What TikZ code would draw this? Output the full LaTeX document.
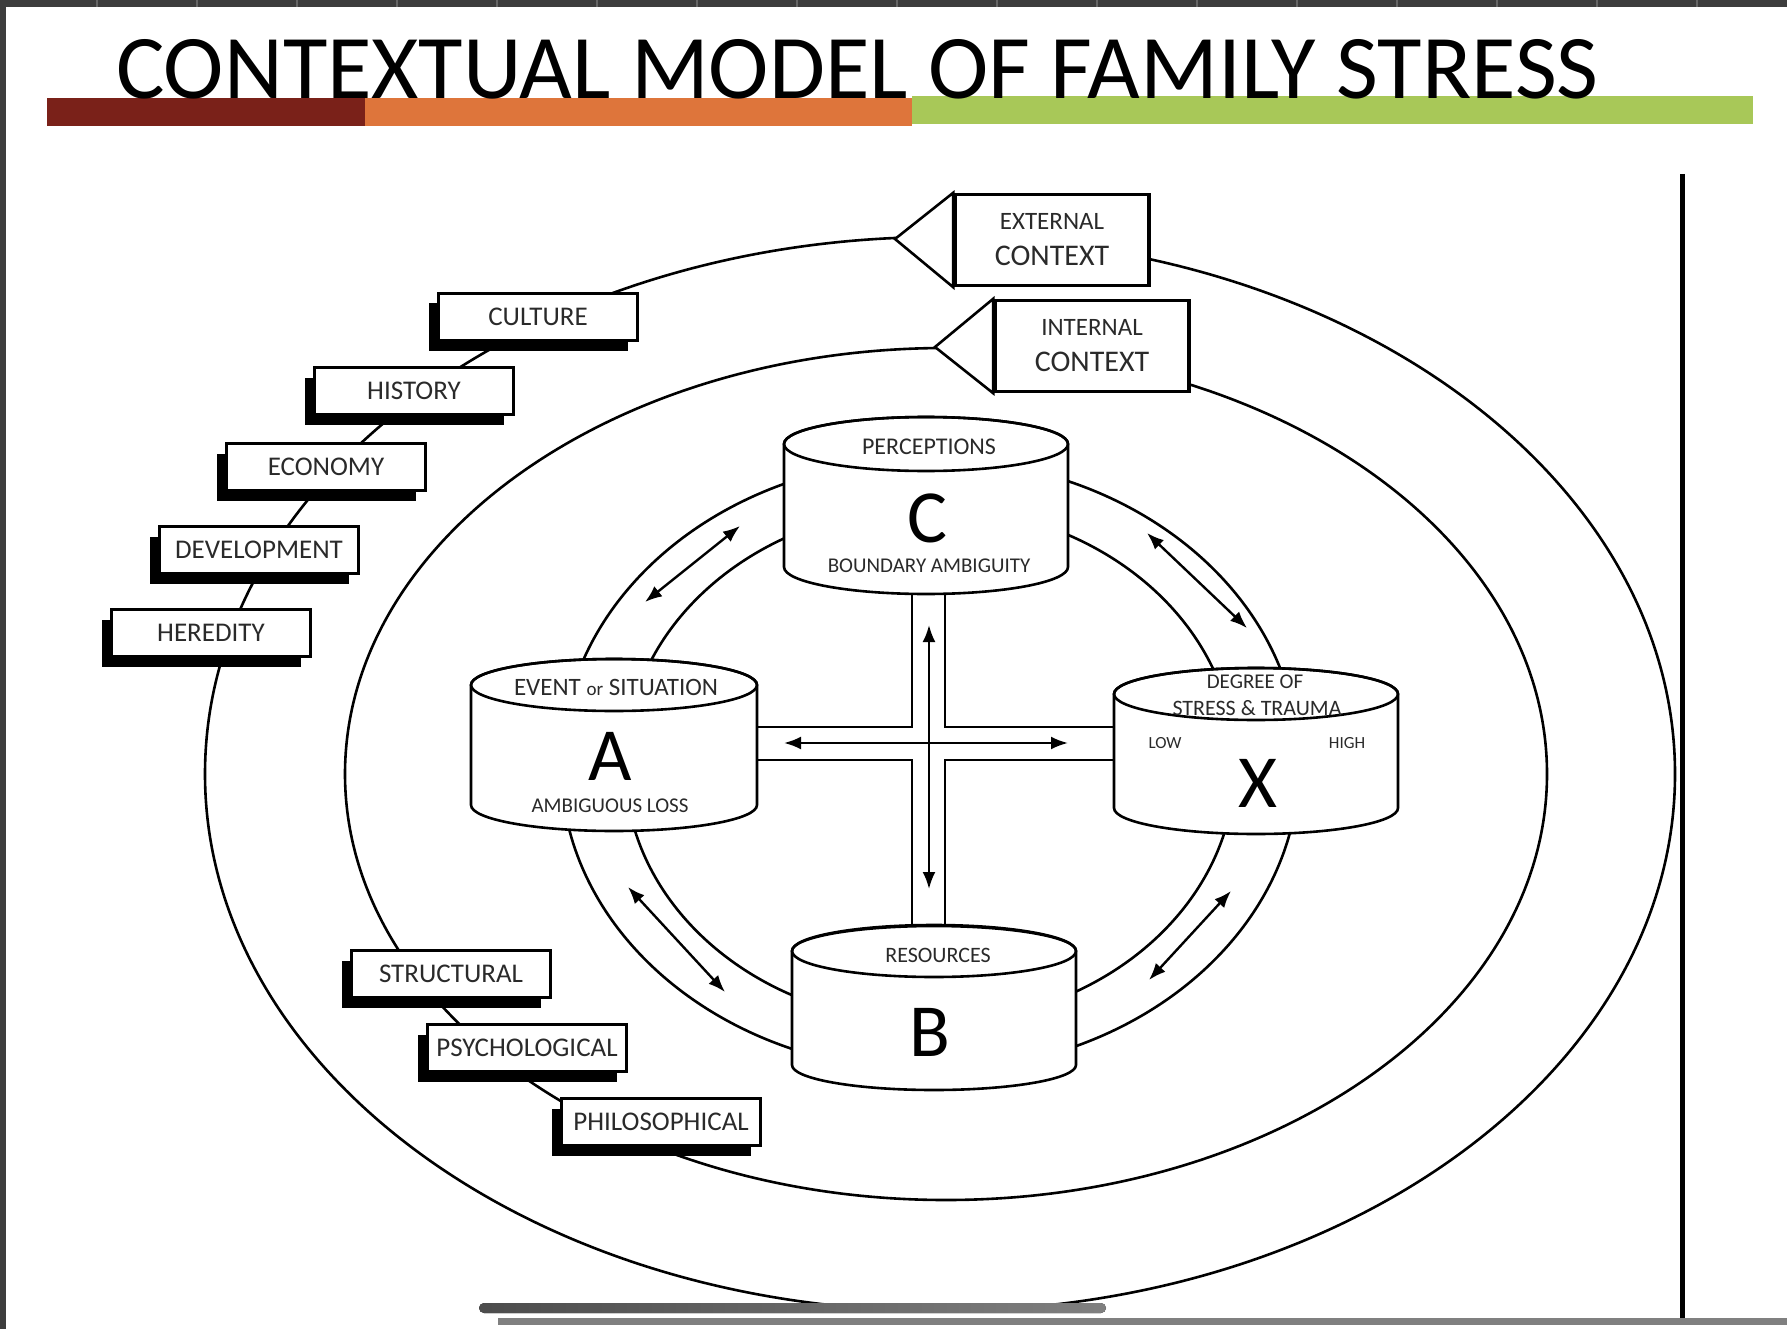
\documentclass[tikz,border=0pt]{standalone}
\usepackage{fontspec}
\setmainfont{Carlito}
\usetikzlibrary{arrows.meta,shadows}
\definecolor{barred}{HTML}{7A2119}
\definecolor{barorange}{HTML}{DE753B}
\definecolor{bargreen}{HTML}{A8C858}
\definecolor{frame}{HTML}{3D3D3D}
\definecolor{inkgrey}{HTML}{2A2A2A}

\begin{document}
\begin{tikzpicture}[x=1pt, y=-1pt,
  line/.style={line width=2.6pt},
  factor/.style={draw, line width=3pt, fill=white, minimum width=199pt, minimum height=47pt,
    inner sep=0pt, text=inkgrey, font=\fontsize{27}{30}\selectfont,
    drop shadow={shadow xshift=-10pt, shadow yshift=-10pt, fill=black, opacity=1}},
  context/.style={draw, line width=3.5pt, fill=white, minimum width=194pt, minimum height=91pt,
    inner sep=0pt, align=center, text=inkgrey, font=\fontsize{25}{36}\selectfont},
  tag/.style={inner sep=0pt, text=inkgrey},
  letter/.style={inner sep=0pt, font=\fontsize{75}{80}\selectfont},
  twoway/.style={line width=2.4pt, {Latex[length=17pt,width=13pt]}-{Latex[length=17pt,width=13pt]}}]

% page
\fill[white] (0,0) rectangle (1787,1329);
\useasboundingbox (0,0) rectangle (1787,1329);
\fill[frame] (0,0) rectangle (1787,7);
\fill[frame] (0,0) rectangle (6,1329);
\foreach \x in {97,197,...,1697}
  \draw[black!60, line width=1.5pt] (\x,0) -- (\x,7);

% title
\fill[barred] (47,98) rectangle (365,126);
\fill[barorange] (365,98) rectangle (912,126);
\fill[bargreen] (912,96) rectangle (1753,124);
\node[anchor=base west, inner sep=0pt, font=\fontsize{91}{96}\selectfont] (title) at (116,99)
  {CONTEXTUAL MODEL OF FAMILY STRESS};

% external and internal context
\draw[line] (940,774) ellipse [x radius=735, y radius=537];
\draw[line] (946,774) ellipse [x radius=601, y radius=426];

\node[factor] (culture) at (538,317) {CULTURE};
\node[factor] (history) at (414,391) {HISTORY};
\node[factor] (economy) at (326,467) {ECONOMY};
\node[factor] (development) at (259,550) {DEVELOPMENT};
\node[factor] (heredity) at (211,633) {HEREDITY};

\node[factor] (structural) at (451,974) {STRUCTURAL};
\node[factor] (psychological) at (527,1048) {PSYCHOLOGICAL};
\node[factor] (philosophical) at (661,1122) {PHILOSOPHICAL};

\node[context] (external) at (1052,240) {EXTERNAL\\{\fontsize{30}{36}\selectfont CONTEXT}};
\coordinate (external tip) at (895,239);
\filldraw[line, fill=white] (external.north west) -- (external tip) -- (external.south west) -- cycle;

\node[context] (internal) at (1092,346) {INTERNAL\\{\fontsize{30}{36}\selectfont CONTEXT}};
\coordinate (internal tip) at (935,347);
\filldraw[line, fill=white] (internal.north west) -- (internal tip) -- (internal.south west) -- cycle;

% ring
\draw[line] (930,765) ellipse [x radius=369, y radius=306];
\draw[line] (930,765) ellipse [x radius=305, y radius=258];

% cross
\draw[line] (912,580) |- (740,727);
\draw[line] (945,580) |- (1130,727);
\draw[line] (740,760) -| (912,940);
\draw[line] (1130,760) -| (945,940);

% C
\filldraw[line, fill=white] (784,444) -- (784,567) arc[start angle=180, end angle=0, x radius=142, y radius=27]
  -- (1068,444) arc[start angle=0, end angle=-180, x radius=142, y radius=27] -- cycle;
\draw[line] (926,444) ellipse [x radius=142, y radius=27];
\node[tag, font=\fontsize{24}{28}\selectfont] (perceptions) at (929,447) {PERCEPTIONS};
\node[letter] (c) at (927,518) {C};
\node[tag, font=\fontsize{21}{24}\selectfont] (boundary) at (929,566) {BOUNDARY AMBIGUITY};

% A
\filldraw[line, fill=white] (471,685) -- (471,805) arc[start angle=180, end angle=0, x radius=143, y radius=26]
  -- (757,685) arc[start angle=0, end angle=-180, x radius=143, y radius=26] -- cycle;
\draw[line] (614,685) ellipse [x radius=143, y radius=26];
\node[tag, font=\fontsize{25}{28}\selectfont] (event) at (616,687) {EVENT {\fontsize{19}{22}\selectfont or} SITUATION};
\node[letter] (a) at (610,756) {A};
\node[tag, font=\fontsize{21}{24}\selectfont] (loss) at (610,806) {AMBIGUOUS LOSS};

% X
\filldraw[line, fill=white] (1114,694) -- (1114,808) arc[start angle=180, end angle=0, x radius=142, y radius=26]
  -- (1398,694) arc[start angle=0, end angle=-180, x radius=142, y radius=26] -- cycle;
\draw[line] (1256,694) ellipse [x radius=142, y radius=26];
\node[tag, font=\fontsize{21}{24}\selectfont] (degree) at (1255,682) {DEGREE OF};
\node[tag, font=\fontsize{22}{24}\selectfont] (stress) at (1257,708) {STRESS \& TRAUMA};
\node[tag, font=\fontsize{17}{20}\selectfont] (low) at (1165,743) {LOW};
\node[tag, font=\fontsize{17}{20}\selectfont] (high) at (1347,743) {HIGH};
\node[letter] (x) at (1258,783) {X};

% B
\filldraw[line, fill=white] (792,951) -- (792,1065) arc[start angle=180, end angle=0, x radius=142, y radius=25]
  -- (1076,951) arc[start angle=0, end angle=-180, x radius=142, y radius=25] -- cycle;
\draw[line] (934,951) ellipse [x radius=142, y radius=26];
\node[tag, font=\fontsize{22}{24}\selectfont] (resources) at (938,955) {RESOURCES};
\node[letter] (b) at (930,1032) {B};

% arrows
\coordinate (ac1) at (645,602);
\coordinate (ac2) at (740,526);
\coordinate (cx1) at (1147,533);
\coordinate (cx2) at (1247,628);
\coordinate (ab1) at (628,887);
\coordinate (ab2) at (725,992);
\coordinate (bx1) at (1149,980);
\coordinate (bx2) at (1231,891);
\coordinate (ax1) at (784,743);
\coordinate (ax2) at (1068,743);
\coordinate (cb1) at (929,625);
\coordinate (cb2) at (929,889);
\draw[twoway] (ac1) -- (ac2);
\draw[twoway] (cx1) -- (cx2);
\draw[twoway] (ab1) -- (ab2);
\draw[twoway] (bx1) -- (bx2);
\draw[twoway] (ax1) -- (ax2);
\draw[twoway] (cb1) -- (cb2);

% screen edge
\draw[line width=5pt] (1682,174) -- (1682,1318);
\fill[left color=black!70, right color=black!50, rounded corners=5pt] (479,1303) rectangle (1106,1313);
\fill[black!50] (498,1318) rectangle (1787,1325);
\end{tikzpicture}
\end{document}
